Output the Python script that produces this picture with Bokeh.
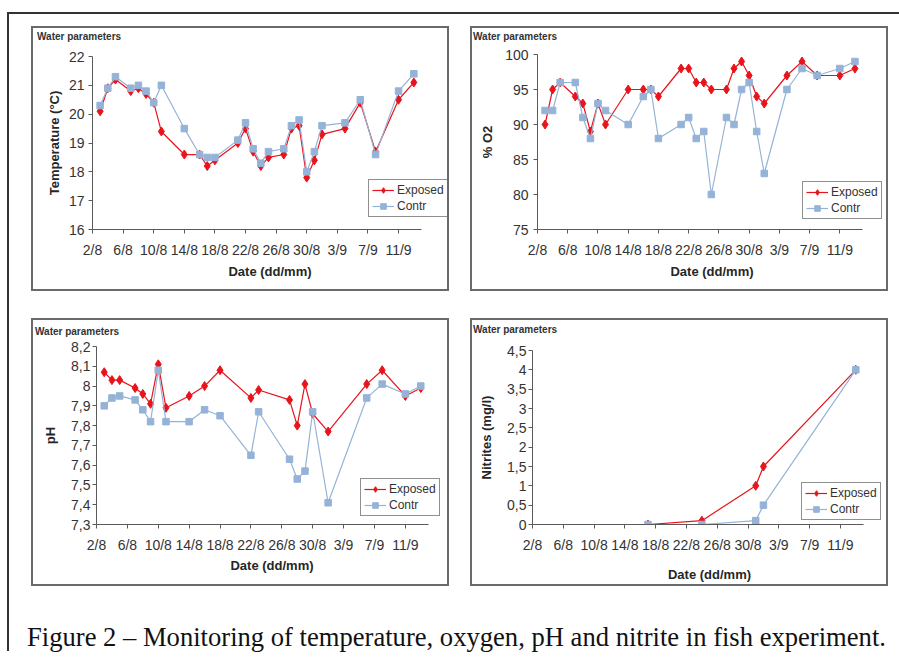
from datetime import date
from bokeh.plotting import figure
from bokeh.models import Range1d, FixedTicker, Legend, LegendItem, Div
from bokeh.layouts import column, row
from bokeh.embed import file_html
from bokeh.resources import INLINE

# ---------------- data ----------------
axis_start = "2/8"
axis_end = "14/9"
x_tick_labels = ["2/8", "6/8", "10/8", "14/8", "18/8", "22/8", "26/8", "30/8", "3/9", "7/9", "11/9"]

temp_dates = ["3/8", "4/8", "5/8", "7/8", "8/8", "9/8", "10/8", "11/8", "14/8", "16/8", "17/8", "18/8",
              "21/8", "22/8", "23/8", "24/8", "25/8", "27/8", "28/8", "29/8", "30/8", "31/8", "1/9",
              "4/9", "6/9", "8/9", "11/9", "13/9"]
temp_exposed = [20.1, 20.9, 21.2, 20.8, 20.9, 20.7, 20.4, 19.4, 18.6, 18.6, 18.2, 18.4,
                19.0, 19.5, 18.7, 18.2, 18.5, 18.6, 19.5, 19.6, 17.8, 18.4, 19.3,
                19.5, 20.4, 18.7, 20.5, 21.1]
temp_contr = [20.3, 20.9, 21.3, 20.9, 21.0, 20.8, 20.4, 21.0, 19.5, 18.6, 18.5, 18.5,
              19.1, 19.7, 18.8, 18.3, 18.7, 18.8, 19.6, 19.8, 18.0, 18.7, 19.6,
              19.7, 20.5, 18.6, 20.8, 21.4]

o2_dates = temp_dates
o2_exposed = [90, 95, 96, 94, 93, 89, 93, 90, 95, 95, 95, 94,
              98, 98, 96, 96, 95, 95, 98, 99, 97, 94, 93,
              97, 99, 97, 97, 98]
o2_contr = [92, 92, 96, 96, 91, 88, 93, 92, 90, 94, 95, 88,
            90, 91, 88, 89, 80, 91, 90, 95, 96, 89, 83,
            95, 98, 97, 98, 99]

ph_dates = ["3/8", "4/8", "5/8", "7/8", "8/8", "9/8", "10/8", "11/8", "14/8", "16/8", "18/8",
            "22/8", "23/8", "27/8", "28/8", "29/8", "30/8", "1/9", "6/9", "8/9", "11/9", "13/9"]
ph_exposed = [8.07, 8.03, 8.03, 7.99, 7.96, 7.91, 8.11, 7.89, 7.95, 8.00, 8.08,
              7.94, 7.98, 7.93, 7.80, 8.01, 7.86, 7.77, 8.01, 8.08, 7.95, 7.99]
ph_contr = [7.90, 7.94, 7.95, 7.93, 7.88, 7.82, 8.08, 7.82, 7.82, 7.88, 7.85,
            7.65, 7.87, 7.63, 7.53, 7.57, 7.87, 7.41, 7.94, 8.01, 7.96, 8.00]

no2_dates = ["17/8", "24/8", "31/8", "1/9", "13/9"]
no2_exposed = [0, 0.1, 1.0, 1.5, 4.0]
no2_contr = [0, 0, 0.1, 0.5, 4.0]

temp_ticks = [16, 17, 18, 19, 20, 21, 22]
temp_labels = ["16", "17", "18", "19", "20", "21", "22"]
o2_ticks = [75, 80, 85, 90, 95, 100]
o2_labels = ["75", "80", "85", "90", "95", "100"]
ph_ticks = [7.3, 7.4, 7.5, 7.6, 7.7, 7.8, 7.9, 8.0, 8.1, 8.2]
ph_labels = ["7,3", "7,4", "7,5", "7,6", "7,7", "7,8", "7,9", "8", "8,1", "8,2"]
no2_ticks = [0, 0.5, 1, 1.5, 2, 2.5, 3, 3.5, 4, 4.5]
no2_labels = ["0", "0,5", "1", "1,5", "2", "2,5", "3", "3,5", "4", "4,5"]

caption_text = "Figure 2 \u2013 Monitoring of temperature, oxygen, pH and nitrite in fish experiment."
panel_title = "Water parameters"
series_names = ["Exposed", "Contr"]

# ---------------- helpers ----------------
RED = "#e8141c"
BLUE = "#95b3d7"
FONT = "Liberation Sans"


def day(s):
    d, m = s.split("/")
    return (date(2008, int(m), int(d)) - date(2008, 8, 2)).days


def make_panel(dates, exposed, contr, yticks, ylabels, ylabel, w, h, bl, bt, bb, axis_px,
               title_margin, ylab_standoff, ytick_standoff, xlab_standoff, legend_loc, margin):
    t_top, t_left = title_margin
    title_h = 12
    fig_h = h - t_top - title_h
    frame_w = w - bl
    x0, x1 = day(axis_start), day(axis_end)
    x_end = x0 + (x1 - x0) * frame_w / axis_px

    p = figure(width=w, height=fig_h, output_backend="svg", toolbar_location=None,
               x_range=Range1d(x0, x_end),
               y_range=Range1d(yticks[0], yticks[-1]),
               min_border_left=bl, min_border_right=0, min_border_top=bt, min_border_bottom=bb,
               background_fill_color="white", border_fill_color="white",
               outline_line_color=None, title=None)
    p.grid.visible = False

    xs = [day(s) for s in dates]
    l1 = p.line(xs, exposed, line_color=RED, line_width=1.2)
    s1 = p.scatter(xs, exposed, marker="diamond", size=9, fill_color=RED, line_color=RED, line_width=1)
    l2 = p.line(xs, contr, line_color=BLUE, line_width=1.2)
    s2 = p.scatter(xs, contr, marker="square", size=6.5, fill_color=BLUE, line_color=BLUE)

    xticks = [day(s) for s in x_tick_labels]
    p.xaxis.ticker = FixedTicker(ticks=xticks)
    p.xaxis.major_label_overrides = {t: lab for t, lab in zip(xticks, x_tick_labels)}
    p.xaxis.bounds = (x0, x1)
    p.yaxis.ticker = FixedTicker(ticks=yticks)
    p.yaxis.major_label_overrides = {t: lab for t, lab in zip(yticks, ylabels)}

    for ax in (p.xaxis[0], p.yaxis[0]):
        ax.axis_line_color = "#5a5a5a"
        ax.axis_line_width = 1
        ax.major_tick_line_color = "#5a5a5a"
        ax.major_tick_out = 4
        ax.major_tick_in = 0
        ax.minor_tick_out = 0
        ax.minor_tick_in = 0
        ax.major_label_text_font = FONT
        ax.major_label_text_font_size = "14px"
        ax.major_label_text_color = "#333333"
        ax.axis_label_text_font = FONT
        ax.axis_label_text_font_size = "13px"
        ax.axis_label_text_font_style = "bold"
        ax.axis_label_text_color = "#262626"

    p.xaxis.axis_label = "Date (dd/mm)"
    p.xaxis.major_label_standoff = 8
    p.xaxis.axis_label_standoff = xlab_standoff
    p.yaxis.axis_label = ylabel
    p.yaxis.major_label_standoff = ytick_standoff
    p.yaxis.axis_label_standoff = ylab_standoff

    leg = Legend(items=[LegendItem(label=series_names[0], renderers=[l1, s1]),
                        LegendItem(label=series_names[1], renderers=[l2, s2])],
                 location=legend_loc, orientation="vertical",
                 border_line_color="#222222", border_line_width=1.5,
                 background_fill_color="white", background_fill_alpha=1,
                 label_text_font=FONT, label_text_font_size="12px", label_text_color="#333333",
                 glyph_width=22, glyph_height=14, label_height=14, label_standoff=3,
                 padding=3, spacing=2, margin=0)
    p.add_layout(leg, "center")

    head = Div(text=panel_title, width=w - t_left, height=title_h, margin=(t_top, 0, 0, t_left),
               styles={"font-family": FONT, "font-size": "10px", "font-weight": "bold",
                       "color": "#333333", "line-height": f"{title_h}px", "white-space": "nowrap"})
    box = column(head, p, margin=margin, spacing=0,
                 styles={"outline": "2px solid #6a6a6a", "background": "white"})
    return box


b1 = make_panel(temp_dates, temp_exposed, temp_contr, temp_ticks, temp_labels, "Temperature (\u00b0C)",
                414, 261, 59, 13, 60, 329, (3, 4), 4, 4, 3, (276, 12), (14, 0, 0, 24))
b2 = make_panel(o2_dates, o2_exposed, o2_contr, o2_ticks, o2_labels, "% O2",
                414, 261, 65, 11, 60, 325, (3, 1), 7, 5, 3, (265, 10), (14, 0, 0, 25))
b3 = make_panel(ph_dates, ph_exposed, ph_contr, ph_ticks, ph_labels, "pH",
                414, 264, 63, 8, 60, 332, (6, 2), 10, 2, 2, (264, 8), (31, 0, 0, 24))
b4 = make_panel(no2_dates, no2_exposed, no2_contr, no2_ticks, no2_labels, "Nitrites (mg/l)",
                414, 264, 60, 14, 60, 331, (4, 1), 10, 2, 11, (269, 4), (31, 0, 0, 25))

caption = Div(text=caption_text, width=880, height=27, margin=(40, 0, 0, 18),
              styles={"font-family": "Liberation Serif", "font-size": "26.6px", "color": "#111111",
                      "white-space": "nowrap", "line-height": "27px", "overflow": "visible"})

layout = column(row(b1, b2), row(b3, b4), caption,
                margin=(12, 0, 0, 7),
                styles={"border-top": "2px solid #333333", "border-left": "2px solid #333333"})

open("out.html", "w").write(file_html(layout, INLINE))
